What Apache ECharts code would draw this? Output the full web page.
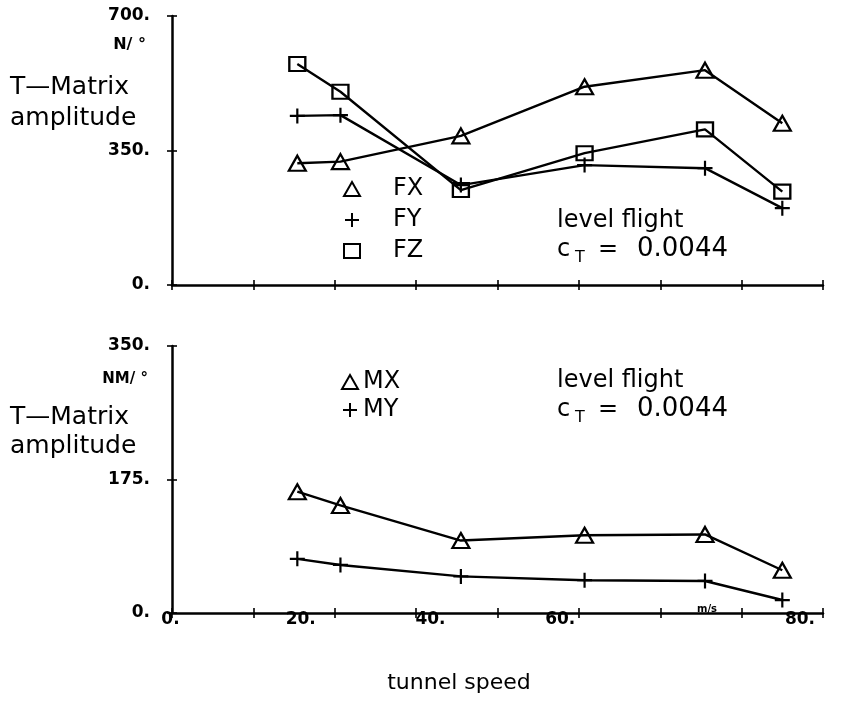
<!DOCTYPE html>
<html>
<head>
<meta charset="utf-8">
<script src="https://cdn.jsdelivr.net/npm/echarts@6/dist/echarts.min.js"></script>
<style>
  html, body { margin: 0; padding: 0; background: #fff; }
  #chart { width: 841px; height: 724px; }
</style>
</head>
<body>
<div id="chart"></div>
<script>
// Tunnel speed (m/s) of each measured run
const speeds = [15.4, 20.7, 35.5, 50.7, 65.5, 75.0];

// Force T-matrix amplitudes (N/deg)
const fx = [317, 321, 388, 516, 559, 421];
const fy = [440, 442, 260, 312, 304, 200];
const fz = [575, 503, 247, 343, 405, 243];

// Moment T-matrix amplitudes (Nm/deg)
const mx = [159, 141, 95, 102, 103, 56];
const my = [71, 63, 48, 43, 42, 17];

// Axis tick labels
const speedTickLabels = { 0: '0.', 20: '20.', 40: '40.', 60: '60.', 80: '80.' };
const forceTicks = [0, 350, 700];
const momentTicks = [0, 175, 350];

const FONT = 'DejaVu Sans';
const black = '#000';

const pairs = (xs, ys) => xs.map((x, i) => [x, ys[i]]);

const plusSymbol = 'path://M7,0L7,14M0,7L14,7';
const hollow = { color: 'transparent', borderColor: black, borderWidth: 2.2 };

const tickFont = { fontFamily: FONT, fontSize: 17, fontWeight: 'bold', color: black };

function speedAxis(grid, withLabels, inner) {
  return {
    gridIndex: grid, type: 'value', position: 'bottom',
    min: 0, max: 80, interval: 10,
    axisLine: { show: !inner, onZero: false, lineStyle: { color: black, width: 2.5 } },
    axisTick: { show: true, inside: inner, length: 5, lineStyle: { color: black, width: 1.6 } },
    splitLine: { show: false },
    axisLabel: withLabels && !inner ? Object.assign({
      show: true, margin: -2,
      formatter: v => speedTickLabels[v] ? `{s${v}|${speedTickLabels[v]}}` : '',
      rich: {
        s0:  Object.assign({ padding: [0, 3, 0, 0] }, tickFont),
        s20: Object.assign({ padding: [0, 68, 0, 0] }, tickFont),
        s40: Object.assign({ padding: [0, 134, 0, 0] }, tickFont),
        s60: Object.assign({ padding: [0, 200, 0, 0] }, tickFont),
        s80: Object.assign({ padding: [0, 46, 0, 0] }, tickFont)
      }
    }, tickFont) : { show: false }
  };
}

function ampAxis(grid, ticks, inner) {
  const step = ticks[1] - ticks[0];
  return {
    gridIndex: grid, type: 'value', position: 'left',
    min: ticks[0], max: ticks[ticks.length - 1], interval: step,
    axisLine: { show: !inner, onZero: false, lineStyle: { color: black, width: 2.5 } },
    axisTick: { show: true, inside: inner, length: 5, lineStyle: { color: black, width: 1.6 } },
    splitLine: { show: false },
    axisLabel: inner ? { show: false } : Object.assign({
      show: true, margin: 22,
      formatter: v => v + '.'
    }, tickFont)
  };
}

function lineSeries(name, xi, yi, values, symbol, size) {
  return {
    name, type: 'line', xAxisIndex: xi, yAxisIndex: yi,
    data: pairs(speeds, values),
    symbol, symbolSize: size, showAllSymbol: true,
    lineStyle: { color: black, width: 2.4 },
    itemStyle: hollow,
    emphasis: { disabled: true },
    animation: false, z: 3
  };
}

function legendBlock(names, icons, left, top, gap, textPad) {
  return {
    orient: 'vertical', left, top,
    itemWidth: 16, itemHeight: 14, itemGap: gap,
    selectedMode: false,
    data: names.map((n, i) => ({ name: n, icon: icons[i] })),
    itemStyle: { color: 'transparent', borderColor: black, borderWidth: 2 },
    textStyle: { color: black, fontFamily: FONT, fontSize: 24, lineHeight: 24, padding: [0, 0, 0, textPad] }
  };
}

function label(text, x, y, size, opts) {
  return {
    type: 'text', x, y, silent: true,
    style: Object.assign({
      text, fill: black, fontFamily: FONT, fontSize: size,
      textAlign: 'left', textVerticalAlign: 'middle'
    }, opts || {})
  };
}

function flightNote(y) {
  return [
    label('level flight', 557, y, 24),
    label('c', 557, y + 29, 24),
    label('T', 575, y + 37, 16),
    label('=', 598, y + 29, 24),
    label('0.0044', 637, y + 28, 26)
  ];
}

const chart = echarts.init(document.getElementById('chart'), null, { renderer: 'canvas' });

chart.setOption({
  backgroundColor: '#fff',
  animation: false,
  grid: [
    { left: 172, right: 18, top: 16, height: 269, outerBoundsMode: 'none', containLabel: false },
    { left: 172, right: 18, top: 346, height: 267, outerBoundsMode: 'none', containLabel: false }
  ],
  xAxis: [
    speedAxis(0, false, false),
    speedAxis(0, false, true),
    speedAxis(1, true, false),
    speedAxis(1, false, true)
  ],
  yAxis: [
    ampAxis(0, forceTicks, false),
    ampAxis(0, forceTicks, true),
    ampAxis(1, momentTicks, false),
    ampAxis(1, momentTicks, true)
  ],
  legend: [
    legendBlock(['FX', 'FY', 'FZ'], ['triangle', plusSymbol, 'rect'], 338, 172, 7, 28),
    legendBlock(['MX', 'MY'], ['triangle', plusSymbol], 336, 365, 4, 0)
  ],
  series: [
    lineSeries('FX', 0, 0, fx, 'triangle', [17, 15]),
    lineSeries('FY', 0, 0, fy, plusSymbol, 15),
    lineSeries('FZ', 0, 0, fz, 'rect', [16, 14]),
    lineSeries('MX', 2, 2, mx, 'triangle', [17, 15]),
    lineSeries('MY', 2, 2, my, plusSymbol, 15)
  ],
  graphic: [
    label('N/ °', 146, 45, 16, { fontWeight: 'bold', textAlign: 'right' }),
    label('T—Matrix', 10, 87, 25),
    label('amplitude', 10, 118, 25),
    label('NM/ °', 148, 379, 15, { fontWeight: 'bold', textAlign: 'right' }),
    label('T—Matrix', 10, 417, 25),
    label('amplitude', 10, 446, 25),
    ...flightNote(221),
    ...flightNote(381),
    label('m/s', 707, 609, 10, { fontWeight: 'bold', textAlign: 'center' }),
    label('tunnel speed', 459, 683, 22, { textAlign: 'center' })
  ]
});
</script>
</body>
</html>
